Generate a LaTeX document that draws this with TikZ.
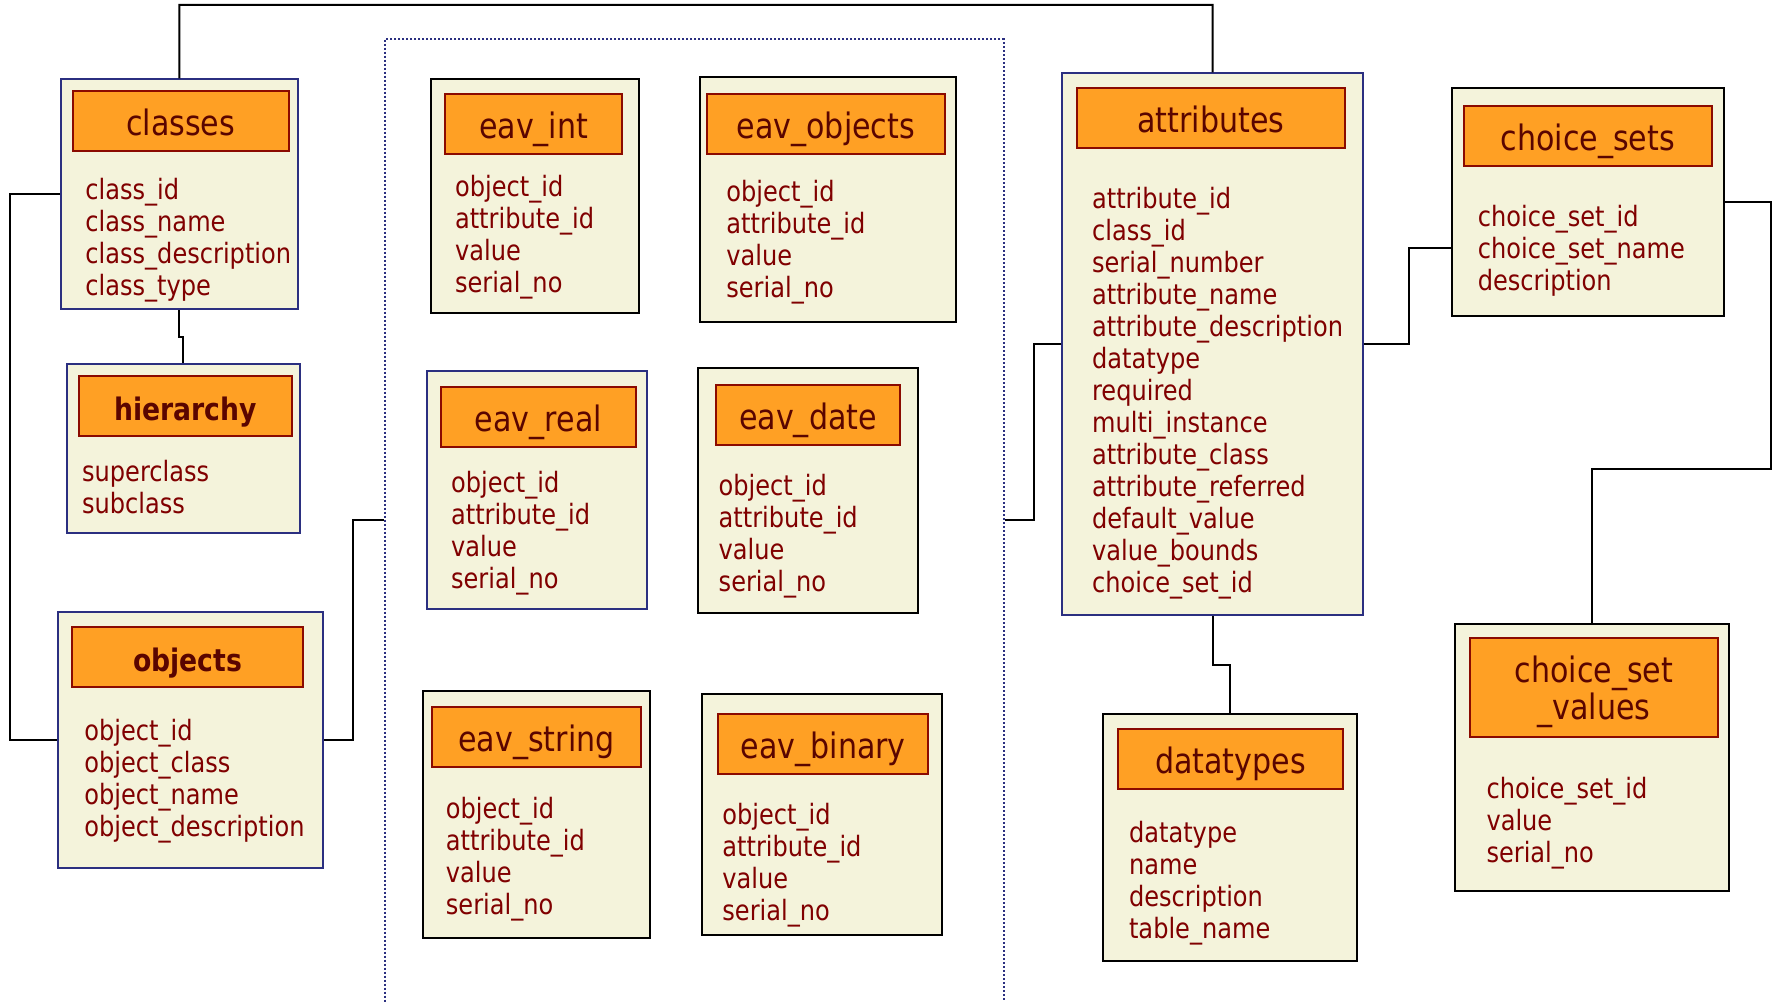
\documentclass[tikz,border=0pt]{standalone}
\usepackage{fontspec}
\setmainfont{DejaVu Sans}[FakeStretch=0.86]
\usetikzlibrary{fit}
\definecolor{cream}{HTML}{F4F3DB}
\definecolor{hdrorange}{HTML}{FFA024}
\definecolor{hdrline}{HTML}{8B0A00}
\definecolor{fieldred}{HTML}{800000}
\definecolor{titlered}{HTML}{5A0500}
\definecolor{navy}{HTML}{2B2F80}
\tikzset{
  tblnavy/.style={draw=navy, fill=cream, line width=1pt, inner sep=0pt},
  tblblack/.style={draw=black, fill=cream, line width=1pt, inner sep=0pt},
  hdr/.style={draw=hdrline, fill=hdrorange, line width=1pt, inner sep=0pt},
  titletext/.style={inner sep=0pt, anchor=center, text=titlered,
    font=\fontsize{17.5}{18.7}\selectfont, text height=14.5pt, text depth=0pt},
  titletwo/.style={inner sep=0pt, anchor=center, text=titlered, align=center,
    font=\fontsize{17.5}{18.7}\selectfont},
  fields/.style={anchor=north west, inner sep=0pt, align=left, text=fieldred,
    font=\fontsize{14}{16}\selectfont},
  conn/.style={draw=black, line width=1pt},
  eavgroup/.style={draw=navy, line width=1pt, dash pattern=on 1pt off 1pt, inner sep=0pt}
}
\newcommand\erbox[7]{%
  \node[#2, fit={#3}] (#1) {};
  \node[hdr, fit={#4}] (#1-hdr) {};
  \node[titletext] (#1-title) at (#1-hdr.center) {#5};
  \node[fields] (#1-fld) at #6 {#7};
}
\newcommand\boldtitle[1]{{\fontsize{15.5}{17}\selectfont\bfseries #1}}
\begin{document}
\begin{tikzpicture}[x=0.565pt, y=-0.565pt]
\useasboundingbox (0,0) rectangle (1568,886);
\fill[white] (0,0) rectangle (1568,886);

% dotted group of value tables
\node[eavgroup, fit={(340.5,34.5) (888,900)}] (group) {};

% left tables
\erbox{classes}{tblnavy}{(54,70.2) (263.4,273.7)}{(64.3,80.2) (255.4,133.9)}{classes}{(75.2,157.6)}
  {class\_id\\class\_name\\class\_description\\class\_type}
\erbox{hierarchy}{tblnavy}{(59,322.2) (265.5,472)}{(69.6,332.5) (258.7,386.2)}{\boldtitle{hierarchy}}{(72.3,406.8)}
  {superclass\\subclass}
\erbox{objects}{tblnavy}{(51.6,541.6) (286.1,768)}{(64,554.4) (268.4,607.8)}{\boldtitle{objects}}{(74.3,635.9)}
  {object\_id\\object\_class\\object\_name\\object\_description}

% value tables
\erbox{eavint}{tblblack}{(381.2,70.2) (565.2,276.7)}{(394.2,82.9) (550.1,136.3)}{eav\_int}{(402.3,154.7)}
  {object\_id\\attribute\_id\\value\\serial\_no}
\erbox{eavobjects}{tblblack}{(619.3,67.8) (846.1,284.9)}{(625.3,83.2) (836.2,136.3)}{eav\_objects}{(642.4,159.1)}
  {object\_id\\attribute\_id\\value\\serial\_no}
\erbox{eavreal}{tblnavy}{(378.1,328) (572.2,538.9)}{(390,342.7) (562.8,395.8)}{eav\_real}{(398.8,416.9)}
  {object\_id\\attribute\_id\\value\\serial\_no}
\erbox{eavdate}{tblblack}{(618,325.3) (812,542.1)}{(633.6,340.7) (796.4,394)}{eav\_date}{(635.6,419.2)}
  {object\_id\\attribute\_id\\value\\serial\_no}
\erbox{eavstring}{tblblack}{(373.9,611.5) (575.3,830.3)}{(382.6,625.9) (567,679)}{eav\_string}{(394.2,705.4)}
  {object\_id\\attribute\_id\\value\\serial\_no}
\erbox{eavbinary}{tblblack}{(621.4,613.8) (833.8,827.7)}{(635.4,631.5) (821.5,684.9)}{eav\_binary}{(638.9,710.4)}
  {object\_id\\attribute\_id\\value\\serial\_no}

% right tables
\erbox{attributes}{tblnavy}{(940,64.9) (1205.8,544.2)}{(952.7,78.2) (1190.5,131.3)}{attributes}{(966,165.6)}
  {attribute\_id\\class\_id\\serial\_number\\attribute\_name\\attribute\_description\\datatype\\required\\multi\_instance\\attribute\_class\\attribute\_referred\\default\_value\\value\_bounds\\choice\_set\_id}
\erbox{choicesets}{tblblack}{(1285,77.8) (1525.2,279.3)}{(1295.3,93.5) (1514.5,146.9)}{choice\_sets}{(1307.3,180.9)}
  {choice\_set\_id\\choice\_set\_name\\description}
\erbox{datatypes}{tblblack}{(975.8,632) (1201,850.4)}{(989,644.8) (1188.7,698.2)}{datatypes}{(998.7,726)}
  {datatype\\name\\description\\table\_name}

\node[tblblack, fit={(1287.5,552.2) (1530,788.4)}] (cvals) {};
\node[hdr, fit={(1300.8,564.8) (1520,651.9)}] (cvals-hdr) {};
\node[titletwo] (cvals-title) at ([yshift=-2.3pt]cvals-hdr.center) {choice\_set\\\_values};
\node[fields] (cvals-fld) at (1315,687.1) {choice\_set\_id\\value\\serial\_no};

% connector bend points
\coordinate (c1) at (1072.9,4.4);
\coordinate (c4) at (312.7,460.2);
\coordinate (c5) at (915,460.2);
\coordinate (c6) at (1247,219.7);
\coordinate (c7) at (1567,415);

% connectors
\draw[conn] (classes.north) |- (c1) -- (attributes.north);
\draw[conn] (classes.west) -- ++(-44.6,0) |- (objects.west);
\draw[conn] (classes.south) -- ++(0,24) -| (hierarchy.north);
\draw[conn] (objects.east) -| (c4) -- (group.west |- c4);
\draw[conn] (attributes.west) -| (c5) -- (group.east |- c5);
\draw[conn] (attributes.east) -| (c6) -- (choicesets.west |- c6);
\draw[conn] (choicesets.east) -| (c7) -| (cvals.north);
\draw[conn] (attributes.south) -- ++(0,43.7) -| (datatypes.north);
\end{tikzpicture}
\end{document}
